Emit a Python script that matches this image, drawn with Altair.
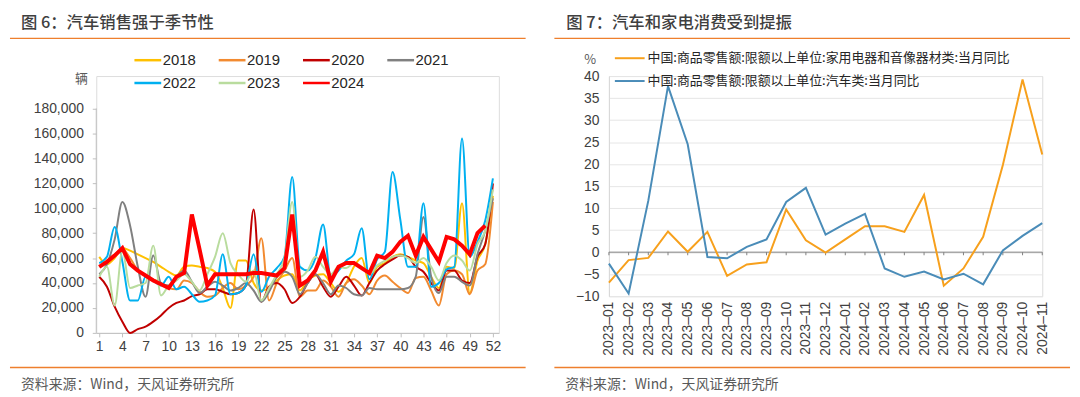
import altair as alt
import pandas as pd

# ---------------- Left panel data (weekly car sales, units) ----------------
weeks = list(range(1, 53))
years = ["2018", "2019", "2020", "2021", "2022", "2023", "2024"]
s2018 = [61, 55, 60, 68, 66, 63, 60, 57, 53, 49, 46, 53, 54, 53, 52, 49, 36, 20, 58, 58,
         40, 34, 36, 42, 46, 47, 34, 42, 46, 47, 40, 33, 40, 53, 60, 40, 53, 56, 61, 63,
         61, 58, 56, 45, 36, 53, 52, 104, 32, 58, 71, 110]
s2019 = [53, 58, 63, 67, 60, 50, 46, 43, 40, 36, 35, 42, 40, 33, 29, 30, 36, 40, 35, 38,
         45, 76, 26, 40, 50, 60, 29, 34, 34, 42, 37, 29, 40, 43, 38, 31, 42, 46, 41, 36,
         32, 44, 45, 34, 22, 47, 50, 47, 31, 50, 55, 105]
s2020 = [45, 37, 21, 9, 0, 3, 5, 9, 14, 20, 24, 26, 29.5, 31, 35, 35, 33, 31, 32, 38,
         99, 25, 37, 40, 35, 24, 29, 40, 47, 37, 29, 37, 45, 38, 30, 40, 50, 55, 59, 62,
         61, 53, 49, 40, 34, 50, 50, 42, 40, 61, 71, 120]
s2021 = [47, 55, 75, 105, 86, 53, 29, 62, 40, 38, 45, 50, 41, 32, 37, 41, 38, 34, 36, 40,
         34, 25, 33, 45, 49, 45, 31, 40, 47, 40, 31, 38, 36, 31, 30, 36, 35, 35, 35, 35,
         36, 45, 93, 45, 32, 45, 45, 41, 38, 63, 82, 108]
s2022 = [56, 61, 85, 57, 26, 26, 45, 42, 38, 45, 35, 37, 31, 25, 26, 30, 63, 31, 32, 38,
         63, 33, 45, 52, 61, 125, 53, 50, 60, 87, 45, 50, 58, 63, 84, 43, 59, 65, 129, 91,
         53, 53, 104, 37, 40, 51, 53, 156, 61, 73, 90, 124]
s2023 = [45, 53, 22, 66, 36, 38, 40, 70, 30, 38, 42, 47, 41, 34, 47, 61, 80, 56, 47, 41,
         50, 26, 36, 47, 60, 105, 45, 50, 61, 53, 47, 53, 52, 56, 53, 47, 54, 58, 61, 62,
         60, 56, 60, 53, 42, 56, 62, 58, 50, 71, 82, 115]
s2024 = [53, 57, 62, 68, 55, 50, 46, 42, 39, 36, 45, 48, 95, 67, 38, 47, 47, 47, 47, 47,
         48, 48, 47, 46, 52, 95, 38, 42, 50, 65, 41, 53, 56, 56, 52, 48, 62, 60, 65, 73,
         78, 62, 77, 67, 57, 77, 75, 70, 63, 80, 86, None]
series_left = [s2018, s2019, s2020, s2021, s2022, s2023, s2024]
colors_left = ["#FFC000", "#F28A30", "#C00000", "#808080", "#00B0F0", "#B9DC9E", "#FF0000"]
week_ticks = list(range(1, 53, 3))
y_ticks_left = list(range(0, 180001, 20000))

# ---------------- Right panel data (YoY %, monthly) ----------------
months = ["2023-01", "2023-02", "2023-03", "2023-04", "2023-05", "2023-06", "2023-07",
          "2023-08", "2023-09", "2023-10", "2023-11", "2023-12", "2024-01", "2024-02",
          "2024-03", "2024-04", "2024-05", "2024-06", "2024-07", "2024-08", "2024-09",
          "2024-10", "2024-11"]
name_appl = "中国:商品零售额:限额以上单位:家用电器和音像器材类:当月同比"
name_car = "中国:商品零售额:限额以上单位:汽车类:当月同比"
appliance = [-6.9, -1.8, -1.3, 4.7, 0.1, 4.6, -5.4, -2.8, -2.3, 9.7, 2.7, -0.1, 2.9, 5.9,
             5.9, 4.6, 13.0, -7.6, -3.7, 3.5, 19.8, 39.2, 22.2]
car = [-2.6, -9.4, 11.7, 37.7, 24.5, -1.1, -1.4, 1.2, 2.9, 11.4, 14.6, 4.0, 6.5, 8.7,
       -3.7, -5.6, -4.4, -6.2, -4.9, -7.3, 0.4, 3.7, 6.6]
y_ticks_right = list(range(-10, 41, 5))

title_left = "图 6：汽车销售强于季节性"
title_right = "图 7：汽车和家电消费受到提振"
source_text = "资料来源：Wind，天风证券研究所"

# ---------------- build tables ----------------
rows = []
for yr, vals in zip(years, series_left):
    for w, v in zip(weeks, vals):
        if v is not None:
            rows.append({"week": w, "year": yr, "sales": v * 1000})
df_left = pd.DataFrame(rows)

rows = []
for m, a, c in zip(months, appliance, car):
    rows.append({"month": m, "series": name_appl, "value": a})
    rows.append({"month": m, "series": name_car, "value": c})
df_right = pd.DataFrame(rows)

CJK = "Noto Sans CJK SC"
LAT = "Liberation Sans"
ORANGE = "#EE7F2D"
AXIS_GRAY = "#BFBFBF"
LABEL = "#404040"

# ---------------- Left panel ----------------
W_L, H_L = 406, 259
xscale_l = alt.Scale(domain=[0.615, 52.77], nice=False, zero=False)
xaxis_l = alt.Axis(values=week_ticks, title=None, grid=False, domainColor=AXIS_GRAY,
                   tickColor=AXIS_GRAY, tickSize=4, labelFont=LAT, labelFontSize=14,
                   labelColor=LABEL, labelPadding=3, labelFlush=False)
yscale_l = alt.Scale(domain=[0, 206000], nice=False)
yaxis_l = alt.Axis(values=y_ticks_left, format=",d", title=None, grid=False,
                   domain=False, tickColor=AXIS_GRAY, tickSize=4, labelFont=LAT,
                   labelFontSize=14, labelColor=LABEL, labelPadding=9, labelOverlap=False)
x_l = alt.X("week:Q", scale=xscale_l, axis=xaxis_l)
y_l = alt.Y("sales:Q", scale=yscale_l, axis=yaxis_l)
color_l = alt.Color("year:N", scale=alt.Scale(domain=years, range=colors_left),
                    legend=alt.Legend(title=None, orient="none", legendX=37, legendY=-31,
                                      direction="horizontal", columns=4, symbolType="stroke",
                                      symbolSize=729, symbolStrokeWidth=2.5,
                                      labelFont=LAT, labelFontSize=15, labelColor="#262626",
                                      labelOffset=0, columnPadding=17, rowPadding=-2))

base_l = alt.Chart(df_left)
lines_other = base_l.transform_filter("datum.year != '2024'").mark_line(
    strokeWidth=2, interpolate="monotone").encode(x=x_l, y=y_l, color=color_l)
lines_2024 = base_l.transform_filter("datum.year == '2024'").mark_line(
    strokeWidth=4, interpolate="linear").encode(x=x_l, y=y_l, color=color_l)

yaxis_line = alt.Chart(pd.DataFrame({"a": [0]})).mark_rule(color=AXIS_GRAY).encode(
    x=alt.value(0),
    y=alt.YDatum(0, type="quantitative", scale=yscale_l, axis=yaxis_l),
    y2=alt.datum(180000))


def deco(title, x_title, x0, x1, x_src, extra_text, ex, ey):
    d = pd.DataFrame({"a": [0]})
    layers = [
        alt.Chart(d).mark_rule(color="white").encode(
            x=alt.value(x0), x2=alt.value(x0 + 5), y=alt.value(-66)),
        alt.Chart(d).mark_text(font=CJK, fontSize=16.5, color="#3F3F3F", align="left",
                               baseline="middle", fontWeight=500).encode(
            x=alt.value(x_title), y=alt.value(-53), text=alt.value(title)),
        alt.Chart(d).mark_rule(color=ORANGE, strokeWidth=1.5).encode(
            x=alt.value(x0), x2=alt.value(x1), y=alt.value(-38)),
        alt.Chart(d).mark_rule(color=ORANGE, strokeWidth=1.5).encode(
            x=alt.value(x0), x2=alt.value(x1), y=alt.value(294)),
        alt.Chart(d).mark_text(font=CJK, fontSize=14, color="#595959", align="left",
                               baseline="middle").encode(
            x=alt.value(x_src), y=alt.value(312), text=alt.value(source_text)),
        alt.Chart(d).mark_text(font=CJK, fontSize=13, color="#595959", align="center",
                               baseline="middle").encode(
            x=alt.value(ex), y=alt.value(ey), text=alt.value(extra_text)),
    ]
    return layers


left = alt.layer(
    lines_other, lines_2024, yaxis_line,
    *deco(title_left, -76, -87, 433, -76, "辆", -15, 3)
).properties(width=W_L, height=H_L)

# ---------------- Right panel ----------------
W_R, H_R = 437, 222
xscale_r = alt.Scale(type="point", padding=0)
xaxis_r = alt.Axis(title=None, labelAngle=-90, ticks=False, domain=False, grid=False,
                   labelFont=LAT, labelFontSize=14, labelColor=LABEL, labelPadding=5,
                   labelExpr="replace(datum.label, '-', '–')")
yscale_r = alt.Scale(domain=[-10, 40], nice=False)
yaxis_r = alt.Axis(values=y_ticks_right, title=None, grid=True, gridColor="#E6E6E6",
                   domain=True, domainColor="#D9D9D9", ticks=False, labelFont=LAT,
                   labelFontSize=14, labelColor=LABEL, labelPadding=10)
x_r = alt.X("month:O", scale=xscale_r, axis=xaxis_r)
y_r = alt.Y("value:Q", scale=yscale_r, axis=yaxis_r)
color_r = alt.Color("series:N", scale=alt.Scale(domain=[name_appl, name_car],
                                                range=["#F7A01C", "#4A8CB8"]),
                    legend=alt.Legend(title=None, orient="none", legendX=5, legendY=-34,
                                      direction="vertical", symbolType="stroke",
                                      symbolSize=900, symbolStrokeWidth=2,
                                      labelFont=CJK, labelFontSize=13, labelColor="#262626",
                                      labelLimit=0, labelOffset=2, rowPadding=-4))

zero_line = alt.Chart(pd.DataFrame({"a": [0]})).mark_rule(color="#808080").encode(
    y=alt.YDatum(0, type="quantitative", scale=yscale_r, axis=yaxis_r))
zero_ticks = alt.Chart(pd.DataFrame({"month": months})).mark_rule(color="#808080").encode(
    x=alt.X("month:O", scale=xscale_r, axis=xaxis_r),
    y=alt.YDatum(0, type="quantitative", scale=yscale_r, axis=yaxis_r),
    y2=alt.datum(-0.7))
lines_r = alt.Chart(df_right).mark_line(strokeWidth=2).encode(x=x_r, y=y_r, color=color_r)

right = alt.layer(
    zero_line, zero_ticks, lines_r,
    *deco(title_right, -43, -55, 465, -44, "%", -19, -16)
).properties(width=W_R, height=H_R)

chart = alt.hconcat(left, right, spacing=25).resolve_scale(color="independent").properties(
    padding=0).configure_view(stroke=None).configure(background="white")

chart.save("out.html", embed_options={"renderer": "svg", "actions": False})
